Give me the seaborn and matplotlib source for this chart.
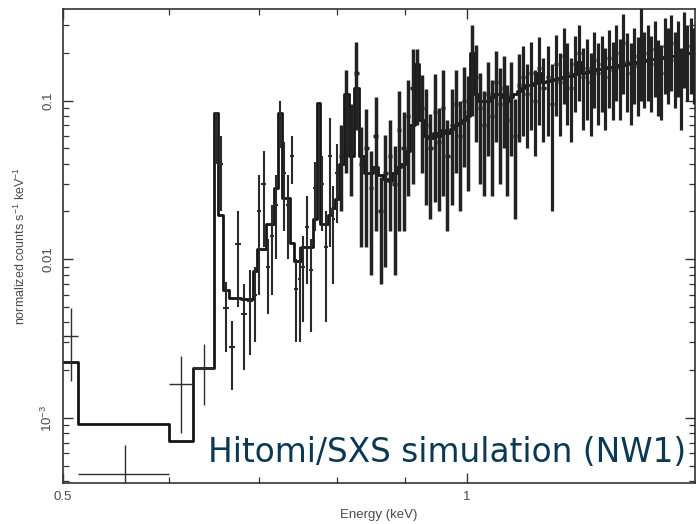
import numpy as np
import pandas as pd
import matplotlib
matplotlib.use("Agg")
import matplotlib.pyplot as plt
import seaborn as sns
from matplotlib.ticker import NullFormatter, LogLocator

# ---------------- data ----------------
# bin edges in keV
low_edges = [0.500, 0.513, 0.600, 0.625]
a_edges = [0.648, 0.653, 0.658, 0.665, 0.672, 0.679, 0.686, 0.693, 0.698, 0.703,
           0.708, 0.713, 0.718, 0.723, 0.728, 0.733, 0.738, 0.743, 0.748, 0.753,
           0.758, 0.763, 0.768, 0.773, 0.778, 0.783, 0.788, 0.793, 0.798, 0.803]
b_edges = [0.810, 0.817, 0.824, 0.831, 0.838, 0.845, 0.852, 0.859, 0.866, 0.873,
           0.880, 0.887, 0.894, 0.901, 0.908, 0.915, 0.922, 0.929, 0.936, 0.943,
           0.950, 0.957, 0.964, 0.971, 0.978, 0.985, 0.992, 0.999, 1.006, 1.013,
           1.020, 1.027, 1.034, 1.041, 1.048, 1.055, 1.062, 1.069, 1.076, 1.083,
           1.090, 1.097]
c_edges = [1.105, 1.113, 1.121, 1.129, 1.137, 1.145, 1.153, 1.161, 1.169, 1.177,
           1.185, 1.193, 1.201, 1.209, 1.217, 1.225, 1.233, 1.241, 1.249, 1.257,
           1.265, 1.273, 1.281, 1.289, 1.297, 1.305, 1.313, 1.321, 1.329, 1.337,
           1.345, 1.353, 1.361, 1.369, 1.377, 1.385, 1.393, 1.401, 1.409, 1.417,
           1.425, 1.433, 1.441, 1.449, 1.457, 1.465, 1.473, 1.481, 1.489]

# model (normalized counts s^-1 keV^-1)
low_model = [0.00226, 0.000916, 0.000715, 0.00207]
a_model = [0.084, 0.019, 0.0064, 0.0057, 0.0057, 0.0056, 0.0056, 0.0084, 0.0116, 0.0116,
           0.0166, 0.0166, 0.028, 0.083, 0.0243, 0.0243, 0.0126, 0.0097, 0.0097, 0.0120,
           0.0120, 0.0120, 0.018, 0.096, 0.0166, 0.0166, 0.019, 0.021, 0.024]
b_model = [0.040, 0.110, 0.045, 0.120, 0.045, 0.035, 0.035, 0.038, 0.034, 0.032,
           0.031, 0.035, 0.038, 0.040, 0.048, 0.070, 0.170, 0.075, 0.060, 0.058,
           0.062, 0.060, 0.065, 0.062, 0.066, 0.070, 0.072, 0.075, 0.080, 0.200,
           0.110, 0.100, 0.100, 0.100, 0.105, 0.110, 0.110, 0.105, 0.100, 0.105,
           0.110, 0.115]
c_model = [0.120, 0.125, 0.125, 0.128, 0.150, 0.130, 0.132, 0.135, 0.137, 0.138,
           0.140, 0.142, 0.143, 0.146, 0.175, 0.150, 0.152, 0.153, 0.155, 0.157,
           0.158, 0.160, 0.162, 0.163, 0.165, 0.167, 0.168, 0.170, 0.172, 0.173,
           0.175, 0.177, 0.178, 0.180, 0.182, 0.183, 0.185, 0.186, 0.188, 0.190,
           0.191, 0.192, 0.194, 0.195, 0.197, 0.198, 0.199, 0.200, 0.201]

# simulated data points and 1-sigma errors
low_data = [0.0033, 0.000442, 0.00164, 0.00207]
low_sig = [0.0016, 0.00023, 0.00083, 0.00087]
a_data = [0.062, 0.040, 0.0049, 0.0028, 0.0125, 0.0045, 0.0055, 0.0060, 0.020, 0.030,
          0.009, 0.014, 0.022, 0.075, 0.035, 0.022, 0.045, 0.0065, 0.0075, 0.009,
          0.016, 0.0085, 0.028, 0.060, 0.030, 0.012, 0.045, 0.018, 0.035]
a_sig = [0.022, 0.020, 0.0023, 0.0013, 0.0075, 0.0025, 0.0030, 0.0030, 0.014, 0.018,
         0.0045, 0.008, 0.012, 0.025, 0.020, 0.012, 0.015, 0.0035, 0.0045, 0.005,
         0.009, 0.005, 0.013, 0.035, 0.015, 0.008, 0.033, 0.011, 0.018]
b_data = [0.045, 0.095, 0.060, 0.150, 0.040, 0.050, 0.028, 0.060, 0.020, 0.035,
          0.045, 0.030, 0.065, 0.050, 0.080, 0.120, 0.140, 0.090, 0.070, 0.050,
          0.085, 0.055, 0.090, 0.045, 0.070, 0.095, 0.060, 0.100, 0.085, 0.190,
          0.140, 0.090, 0.070, 0.110, 0.080, 0.130, 0.095, 0.120, 0.075, 0.110,
          0.060, 0.125]
b_sig = [0.025, 0.060, 0.035, 0.085, 0.028, 0.038, 0.020, 0.045, 0.013, 0.026,
         0.030, 0.022, 0.050, 0.035, 0.055, 0.090, 0.070, 0.055, 0.048, 0.032,
         0.062, 0.035, 0.065, 0.030, 0.048, 0.060, 0.040, 0.062, 0.058, 0.110,
         0.085, 0.060, 0.045, 0.065, 0.055, 0.075, 0.065, 0.070, 0.050, 0.065,
         0.042, 0.070]
c_data = [0.140, 0.110, 0.150, 0.100, 0.160, 0.120, 0.140, 0.095, 0.170, 0.130,
          0.190, 0.150, 0.120, 0.170, 0.200, 0.140, 0.160, 0.130, 0.180, 0.150,
          0.170, 0.140, 0.185, 0.155, 0.200, 0.160, 0.230, 0.175, 0.150, 0.190,
          0.165, 0.240, 0.180, 0.200, 0.170, 0.210, 0.160, 0.150, 0.220, 0.190,
          0.230, 0.180, 0.210, 0.140, 0.240, 0.200, 0.220, 0.190, 0.210]
c_sig = [0.080, 0.060, 0.085, 0.055, 0.090, 0.065, 0.080, 0.075, 0.090, 0.070,
         0.095, 0.080, 0.065, 0.085, 0.100, 0.075, 0.085, 0.070, 0.090, 0.080,
         0.085, 0.075, 0.095, 0.080, 0.100, 0.085, 0.120, 0.090, 0.080, 0.095,
         0.085, 0.140, 0.090, 0.100, 0.085, 0.105, 0.080, 0.075, 0.110, 0.095,
         0.115, 0.090, 0.105, 0.075, 0.120, 0.100, 0.110, 0.095, 0.100]

x_major = [0.5, 1.0]
x_major_labels = ["0.5", "1"]
x_minor = [0.6, 0.7, 0.8, 0.9]
y_major = [1e-3, 1e-2, 1e-1]
y_major_labels = ["10$^{-3}$", "0.01", "0.1"]

annotation = "Hitomi/SXS simulation (NW1)"

# ---------------- assemble ----------------
edges = np.array(low_edges + a_edges + b_edges + c_edges)
model = np.array(low_model + a_model + b_model + c_model)
data = np.array(low_data + a_data + b_data + c_data)
sig = np.array(low_sig + a_sig + b_sig + c_sig)

centers = 0.5 * (edges[:-1] + edges[1:])
xerr = 0.5 * (edges[1:] - edges[:-1])
yerr_lo = np.minimum(sig, data * 0.999)
yerr_hi = sig

step_df = pd.DataFrame({"energy": edges, "model": np.append(model, model[-1])})

# ---------------- figure ----------------
sns.set_theme(style="ticks")
plt.rcParams["font.family"] = ["Liberation Sans", "DejaVu Sans"]
plt.rcParams["mathtext.default"] = "regular"

fig = plt.figure(figsize=(6.99, 5.24), dpi=100)
ax = fig.add_axes([63 / 699, 41 / 524, 632 / 699, 474 / 524])

sns.lineplot(data=step_df, x="energy", y="model", ax=ax, estimator=None,
             sort=False, drawstyle="steps-post", color="#151515",
             linewidth=2.0, zorder=2)

n0 = len(low_model)
n1 = n0 + len(a_model)
n2 = n1 + len(b_model)
groups = [(0, n0, 1.0, "#2e2e2e"), (n0, n1, 1.5, "#2a2a2a"),
          (n1, n2, 2.5, "#222222"), (n2, len(model), 2.3, "#222222")]
for i0, i1, lw, col in groups:
    ax.errorbar(centers[i0:i1], data[i0:i1], xerr=xerr[i0:i1],
                yerr=[yerr_lo[i0:i1], yerr_hi[i0:i1]], fmt="none",
                ecolor=col, elinewidth=lw, capsize=0, zorder=3)

ax.set_xscale("log")
ax.set_yscale("log")
ax.set_xlim(0.5, 1.48)
ax.set_ylim(3.9e-4, 0.377)

ax.set_xticks(x_major)
ax.set_xticklabels(x_major_labels)
ax.set_xticks(x_minor, minor=True)
ax.xaxis.set_minor_formatter(NullFormatter())
ax.set_yticks(y_major)
ax.set_yticklabels(y_major_labels)
ax.yaxis.set_minor_locator(LogLocator(base=10, subs=np.arange(2, 10)))
ax.yaxis.set_minor_formatter(NullFormatter())

ax.tick_params(which="both", direction="in", top=True, right=True,
               colors="#333333", labelcolor="#4a4a4a", labelsize=9.5)
ax.tick_params(which="major", length=7, width=1.0)
ax.tick_params(which="minor", length=4, width=0.9)
ax.tick_params(axis="x", pad=6)
ax.tick_params(axis="y", pad=6, labelrotation=90)
for lab in ax.get_yticklabels():
    lab.set_va("center")

for s in ax.spines.values():
    s.set_color("#333333")
    s.set_linewidth(1.2)

ax.set_xlabel("Energy (keV)", fontsize=9.5, color="#4a4a4a", labelpad=4)
ax.set_ylabel("normalized counts s$^{-1}$ keV$^{-1}$", fontsize=9,
              color="#4a4a4a", labelpad=8)

fig.text(208 / 699, 1 - 462 / 524, annotation, fontsize=23.6, color="#0b3954",
         family="DejaVu Sans", ha="left", va="baseline")

fig.savefig("out.png", dpi=100)
